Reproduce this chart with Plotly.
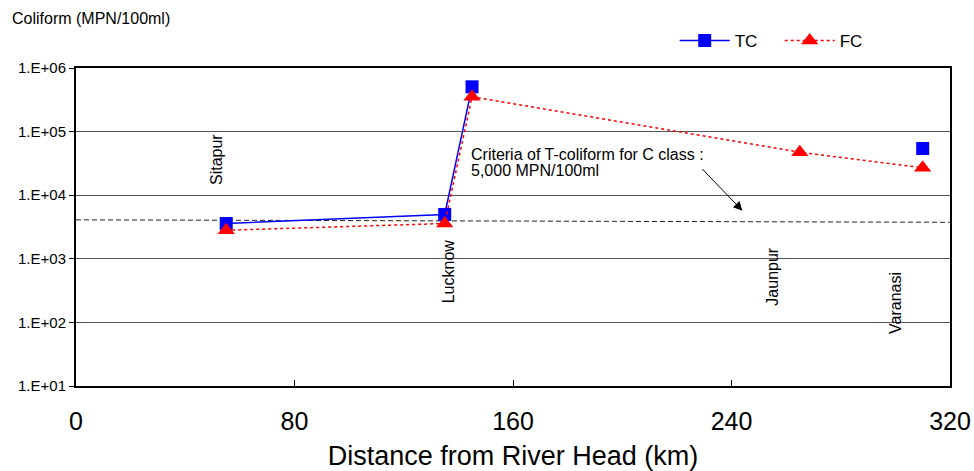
import math
import plotly.graph_objects as go

# Sampling stations along the river (distance from river head, km)
distance_km = [55, 135, 145, 265, 310]
station_names = ["Sitapur", "Lucknow", "", "Jaunpur", "Varanasi"]

# Coliform counts (MPN/100ml); Jaunpur has no total coliform value
tc_values = [3590, 4980, 506000, None, 54200]
fc_values = [2810, 3590, 352000, 47400, 27000]

# C-class criterion line for total coliform
criteria_x = [0, 320]
criteria_y = [4100, 3750]

y_tickvals = [1e1, 1e2, 1e3, 1e4, 1e5, 1e6]
y_ticktext = ["1.E+01", "1.E+02", "1.E+03", "1.E+04", "1.E+05", "1.E+06"]
x_tickvals = [0, 80, 160, 240, 320]

FONT = "Liberation Sans, Arial, sans-serif"

fig = go.Figure()

fig.add_trace(go.Scatter(
    x=criteria_x, y=criteria_y, mode="lines",
    line=dict(color="#222", width=1, dash="5px,3px"),
    showlegend=False, hoverinfo="skip",
))

fig.add_trace(go.Scatter(
    x=distance_km, y=tc_values, name="TC", mode="lines+markers",
    connectgaps=False,
    line=dict(color="#0000ff", width=1.5),
    marker=dict(symbol="square", size=13, color="#0000ff"),
))

fig.add_trace(go.Scatter(
    x=distance_km, y=fc_values, name="FC", mode="lines+markers",
    line=dict(color="#ff0000", width=1.5, dash="dot"),
    marker=dict(symbol="triangle-up", size=15, color="#ff0000"),
))

# Station name labels, written vertically (annotation y is log10 on a log axis)
label_y = {"Sitapur": 3.6e4, "Lucknow": 6.3e2, "Jaunpur": 5.2e2, "Varanasi": 2.0e2}
label_dx = {"Sitapur": -9, "Lucknow": 4, "Jaunpur": -27, "Varanasi": -27}
for xk, name in zip(distance_km, station_names):
    if not name:
        continue
    fig.add_annotation(
        x=xk, y=math.log10(label_y[name]), text=name, textangle=-90,
        showarrow=False, xshift=label_dx[name],
        font=dict(family=FONT, size=16, color="#000"),
    )

# Criterion note and its arrow
note_lines = ["Criteria of T-coliform for C class :", "5,000 MPN/100ml"]
for i, line in enumerate(note_lines):
    fig.add_annotation(
        x=0.450, y=0.727 - i * 0.050, xref="paper", yref="paper",
        xanchor="left", yanchor="middle", text=line, showarrow=False,
        font=dict(family=FONT, size=16, color="#000"),
    )
fig.add_annotation(
    x=244, y=math.log10(5700), ax=228.8, ay=math.log10(27200),
    xref="x", yref="y", axref="x", ayref="y",
    text="", showarrow=True, arrowhead=2, arrowsize=1.8, arrowwidth=1,
    arrowcolor="#000",
)

fig.add_annotation(
    x=-0.0755, y=1.157, xref="paper", yref="paper", text="Coliform (MPN/100ml)",
    showarrow=False, xanchor="left", yanchor="middle",
    font=dict(family=FONT, size=16, color="#000"),
)

fig.update_layout(
    width=974, height=471,
    margin=dict(l=76, r=24, t=68, b=85, autoexpand=False),
    paper_bgcolor="white", plot_bgcolor="white",
    font=dict(family=FONT, color="#000"),
    legend=dict(
        orientation="h", x=0.685, y=1.085, xanchor="left", yanchor="middle",
        font=dict(family=FONT, size=17, color="#000"),
        bgcolor="rgba(0,0,0,0)", itemwidth=50, entrywidth=40,
    ),
    showlegend=True,
)

fig.update_xaxes(
    range=[0, 320], tickvals=x_tickvals, ticks="inside", ticklen=6,
    tickcolor="#000", showgrid=False, zeroline=False,
    showline=True, linecolor="#000", linewidth=1.5, mirror=True,
    ticklabelstandoff=12,
    tickfont=dict(family=FONT, size=25, color="#000"),
    title=dict(text="Distance from River Head (km)",
               font=dict(family=FONT, size=27, color="#000"), standoff=13),
)

fig.update_yaxes(
    type="log", range=[1, 6], tickvals=y_tickvals, ticktext=y_ticktext,
    ticks="outside", ticklen=5, tickcolor="#000",
    showgrid=True, gridcolor="#555", gridwidth=1.2,
    showline=True, linecolor="#000", linewidth=2, mirror=True,
    tickfont=dict(family=FONT, size=15, color="#000"),
)

fig.write_html("out.html")
